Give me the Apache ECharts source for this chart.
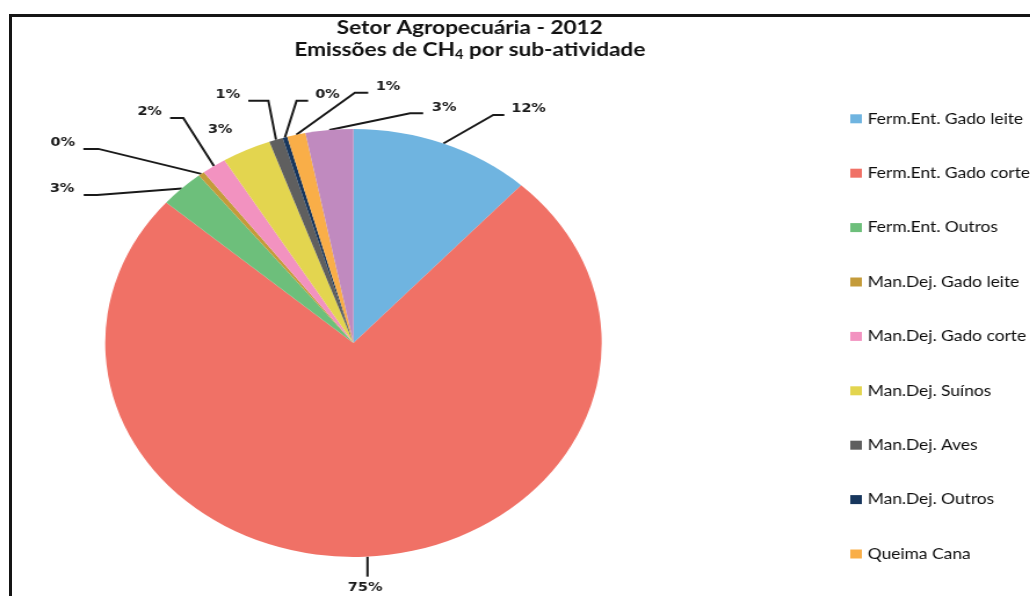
<!DOCTYPE html>
<html>
<head>
<meta charset="utf-8">
<title>Setor Agropecuária - 2012</title>
<script src="https://cdn.jsdelivr.net/npm/echarts@6.0.0/dist/echarts.min.js"></script>
<style>
  html, body { margin: 0; padding: 0; background: #ffffff; width: 1030px; height: 596px; overflow: hidden; }
  #frame {
    position: absolute; left: 9px; top: 14px; width: 1040px; height: 600px;
    border-top: 3px solid #151515; border-left: 3px solid #151515;
  }
  /* the chart is laid out narrower and widened horizontally, giving the oval pie */
  #chart {
    position: absolute; left: 0; top: 0; width: 888px; height: 596px;
    transform: scaleX(1.16); transform-origin: 0 0;
  }
</style>
</head>
<body>
<div id="frame"></div>
<div id="chart"></div>
<script>
// CH4 emissions by sub-activity, agriculture sector, 2012 (share of total, %)
const categories = [
  'Ferm.Ent. Gado leite',
  'Ferm.Ent. Gado corte',
  'Ferm.Ent. Outros',
  'Man.Dej. Gado leite',
  'Man.Dej. Gado corte',
  'Man.Dej. Suínos',
  'Man.Dej. Aves',
  'Man.Dej. Outros',
  'Queima Cana',
  'Cultivo de Arroz'
];
const values = [11.8, 74.6, 2.9, 0.4, 1.6, 3.2, 0.9, 0.3, 1.2, 3.1];
const legendNames = categories.slice(0, 9);

const sliceColors = [
  '#6fb4e0', '#f07166', '#6dbf7b', '#c49b3a', '#f292c0',
  '#e3d54f', '#5f5f5f', '#17365d', '#f9ae48', '#c08abf'
];

// leader line for each label: offset of the elbow from the slice's edge point,
// length of the horizontal run, side of the label, gap before the text
const leaderLines = [
  { dx: 43,    dy: -28.5, run: 9.5,  side: 'right',  gap: 6 },
  { dx: 0,     dy: 20,    run: 0,    side: 'below',  gap: 11 },
  { dx: -73,   dy: 6.7,   run: 11.6, side: 'left',   gap: 8 },
  { dx: -88.7, dy: -25,   run: 13,   side: 'left',   gap: 7 },
  { dx: -26.4, dy: -48,   run: 11.4, side: 'left',   gap: 7 },
  { dx: -8,    dy: -14,   run: 0,    side: 'left',   gap: 4, hidden: true },
  { dx: -6.6,  dy: -39,   run: 17.3, side: 'left',   gap: 7 },
  { dx: 10,    dy: -36.6, run: 10,   side: 'right',  gap: 6 },
  { dx: 50.5,  dy: -42,   run: 11.5, side: 'right',  gap: 6.5 },
  { dx: 69.6,  dy: -16.7, run: 11.3, side: 'right',  gap: 7.5 }
];

const pieData = categories.map(function (name, i) {
  const item = { name: name, value: values[i], itemStyle: { color: sliceColors[i] } };
  if (leaderLines[i].hidden) {
    item.labelLine = { lineStyle: { opacity: 0 } };
  }
  return item;
});

function placeLabel(params) {
  const pts = params.labelLinePoints;
  if (!pts || !pts.length) return {};
  const lead = leaderLines[params.dataIndex];
  const start = pts[0];
  const elbow = [start[0] + lead.dx, start[1] + lead.dy];
  if (lead.side === 'below') {
    return {
      x: elbow[0] - 2, y: elbow[1] + lead.gap,
      align: 'center', verticalAlign: 'middle',
      labelLinePoints: [start, elbow]
    };
  }
  const dir = lead.side === 'right' ? 1 : -1;
  const end = [elbow[0] + dir * lead.run, elbow[1]];
  return {
    x: end[0] + dir * lead.gap, y: end[1] - 6,
    align: dir > 0 ? 'left' : 'right', verticalAlign: 'middle',
    labelLinePoints: lead.hidden ? [start, start] : [start, elbow, end]
  };
}

const chart = echarts.init(document.getElementById('chart'), null, { renderer: 'canvas' });

chart.setOption({
  animation: false,
  backgroundColor: 'transparent',
  title: {
    text: 'Setor Agropecuária - 2012\nEmissões de CH{sub|4} por sub-atividade',
    left: 405,
    top: 17,
    padding: 0,
    textAlign: 'center',
    textStyle: {
      fontFamily: 'Lato',
      fontSize: 19.5,
      fontWeight: 'bold',
      color: '#111111',
      lineHeight: 22,
      rich: {
        sub: {
          fontFamily: 'Lato',
          fontSize: 12.5,
          fontWeight: 'bold',
          color: '#111111',
          lineHeight: 14,
          verticalAlign: 'bottom'
        }
      }
    }
  },
  legend: {
    data: legendNames,
    orient: 'vertical',
    left: 728,
    top: 106.3,
    itemGap: 39.4,
    itemWidth: 10,
    itemHeight: 9,
    icon: 'rect',
    selectedMode: false,
    textStyle: {
      fontFamily: 'Lato',
      fontSize: 15,
      color: '#0d0d0d',
      lineHeight: 14
    }
  },
  series: [{
    type: 'pie',
    center: [304.7, 343],
    radius: 214,
    startAngle: 90,
    clockwise: true,
    avoidLabelOverlap: false,
    emphasis: { disabled: true },
    itemStyle: { borderWidth: 0 },
    label: {
      show: true,
      position: 'outside',
      fontFamily: 'DejaVu Sans',
      fontSize: 12.5,
      fontWeight: 'bold',
      color: '#1a1a1a',
      formatter: function (p) { return Math.round(p.percent) + '%'; }
    },
    labelLine: {
      show: true,
      length: 20,
      length2: 10,
      lineStyle: { color: '#1a1a1a', width: 2 }
    },
    labelLayout: placeLabel,
    data: pieData
  }]
});
</script>
</body>
</html>
